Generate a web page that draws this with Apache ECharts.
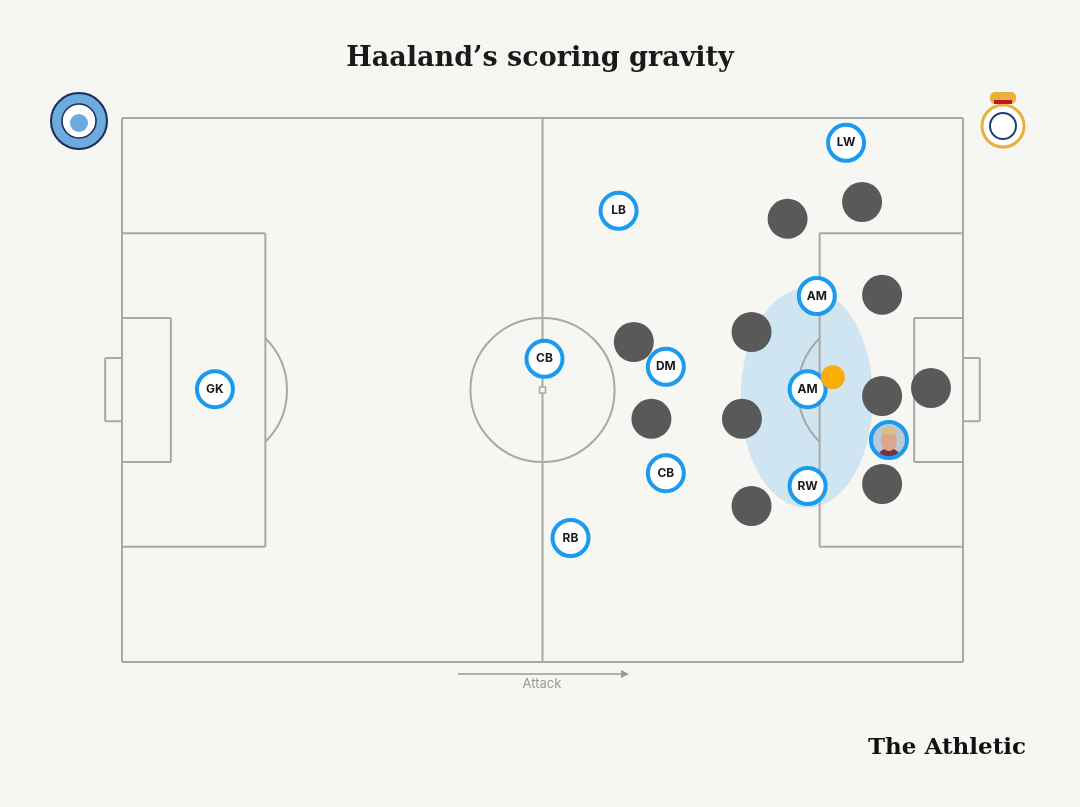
<!DOCTYPE html>
<html>
<head>
<meta charset="utf-8">
<title>Haaland's scoring gravity</title>
<style>html,body{margin:0;padding:0;background:#f6f6f2;}</style>
</head>
<body>
<div id="chart" style="width:1080px;height:807px;"></div>
<script src="https://cdn.jsdelivr.net/npm/echarts@6/dist/echarts.min.js"></script>
<script>
// pitch in metres, x to the right (attack), y upwards
var pitchLines = [
  [0,0,105,0],[105,0,105,68],[105,68,0,68],[0,68,0,0],[52.5,0,52.5,68],
  [0,14.4,17.9,14.4],[17.9,14.4,17.9,53.6],[17.9,53.6,0,53.6],
  [0,25,6.1,25],[6.1,25,6.1,43],[6.1,43,0,43],
  [0,30.1,-2.1,30.1],[-2.1,30.1,-2.1,38],[-2.1,38,0,38],
  [105,14.4,87.1,14.4],[87.1,14.4,87.1,53.6],[87.1,53.6,105,53.6],
  [105,25,98.9,25],[98.9,25,98.9,43],[98.9,43,105,43],
  [105,30.1,107.1,30.1],[107.1,30.1,107.1,38],[107.1,38,105,38]
];
// [cx, cy, r, startDeg, endDeg]
var pitchArcs = [
  [52.5,34,9,0,360],
  [11.5,34,9.1,-45,45],
  [93.5,34,9.1,135,225]
];
var cityPlayers = [
  ['LW',90.4,64.9],['LB',62,56.4],['AM',86.75,45.75],['DM',67.9,36.9],
  ['CB',52.75,37.9],['GK',11.6,34.1],['AM',85.6,34.1],['CB',67.9,23.6],
  ['RW',85.6,22],['RB',56,15.5]
];
var haaland = [95.75,27.75];
var madridPlayers = [
  [92.4,57.5],[83.1,55.4],[94.9,45.9],[78.6,41.25],[63.9,40],[101,34.25],
  [94.9,33.25],[66.1,30.4],[77.4,30.4],[94.9,22.25],[78.6,19.5]
];
var ball = [88.75,35.6];
var gravityZone = [85.5,33,8.25,13.75]; // cx, cy, rx, ry

var lineCol = '#a8a8a8', blue = '#1a9bf0', dark = '#595959';

var option = {
  backgroundColor: '#f6f6f2',
  animation: false,
  title: {
    text: 'Haaland\u2019s scoring gravity', left: 'center', top: 40,
    textStyle: {fontFamily: 'DejaVu Serif', fontWeight: 'bold', fontSize: 27, color: '#1a1a1a'}
  },
  grid: {left: 122, right: 117, top: 118, bottom: 145},
  xAxis: {type: 'value', min: 0, max: 105, show: false},
  yAxis: {type: 'value', min: 0, max: 68, show: false},
  series: [
    {
      type: 'custom', z: 1, data: [gravityZone],
      renderItem: function (p, api) {
        var c = api.coord([api.value(0), api.value(1)]);
        var s = api.size([api.value(2), api.value(3)]);
        return {type: 'ellipse', shape: {cx: c[0], cy: c[1], rx: s[0], ry: s[1]},
          style: {fill: 'rgba(150,205,240,0.4)'}};
      }
    },
    {
      type: 'custom', z: 2, data: pitchLines,
      renderItem: function (p, api) {
        var a = api.coord([api.value(0), api.value(1)]);
        var b = api.coord([api.value(2), api.value(3)]);
        return {type: 'line', shape: {x1: a[0], y1: a[1], x2: b[0], y2: b[1]},
          style: {stroke: lineCol, lineWidth: 2}};
      }
    },
    {
      type: 'custom', z: 2, data: pitchArcs,
      renderItem: function (p, api) {
        var c = api.coord([api.value(0), api.value(1)]);
        var r = api.size([api.value(2), 0])[0];
        return {type: 'arc', shape: {cx: c[0], cy: c[1], r: r,
          startAngle: api.value(3) * Math.PI / 180, endAngle: api.value(4) * Math.PI / 180},
          style: {stroke: lineCol, lineWidth: 2, fill: null}};
      }
    },
    {
      type: 'custom', z: 2, data: [[52.5,34]],
      renderItem: function (p, api) {
        var c = api.coord([api.value(0), api.value(1)]);
        return {type: 'rect', shape: {x: c[0]-3, y: c[1]-3, width: 6, height: 6},
          style: {stroke: lineCol, lineWidth: 1.5, fill: '#f6f6f2'}};
      }
    },
    {
      type: 'scatter', z: 3, symbolSize: 40, data: madridPlayers,
      itemStyle: {color: dark, opacity: 1}
    },
    {
      type: 'scatter', z: 4, symbolSize: 36,
      data: cityPlayers.map(function (d) { return {value: [d[1], d[2]], name: d[0]}; }),
      itemStyle: {color: '#fff', borderColor: blue, borderWidth: 4, opacity: 1},
      label: {show: true, formatter: '{b}', color: '#1a1a1a', fontWeight: 'bold', fontSize: 12, fontFamily: 'Inter'}
    },
    {
      type: 'custom', z: 5, data: [haaland],
      renderItem: function (p, api) {
        var c = api.coord([api.value(0), api.value(1)]);
        return {type: 'group', children: [
          {type: 'group', clipPath: {type: 'circle', shape: {cx: c[0], cy: c[1], r: 18}}, children: [
            {type: 'circle', shape: {cx: c[0], cy: c[1], r: 18}, style: {fill: '#b9c9d6'}},
            {type: 'circle', shape: {cx: c[0], cy: c[1] + 20, r: 12}, style: {fill: '#7a2f3a'}},
            {type: 'ellipse', shape: {cx: c[0], cy: c[1] + 1, rx: 8, ry: 10}, style: {fill: '#d9a88c'}},
            {type: 'ellipse', shape: {cx: c[0], cy: c[1] - 9, rx: 8, ry: 4}, style: {fill: '#d8bd86'}}
          ]},
          {type: 'circle', shape: {cx: c[0], cy: c[1], r: 18}, style: {fill: null, stroke: blue, lineWidth: 4}}
        ]};
      }
    },
    {
      type: 'scatter', z: 6, symbolSize: 24, data: [ball],
      itemStyle: {color: '#f9ad0a', opacity: 1}
    }
  ],
  graphic: [
    {type: 'line', shape: {x1: 458, y1: 674, x2: 624, y2: 674}, style: {stroke: '#999', lineWidth: 1.5}},
    {type: 'polygon', shape: {points: [[629,674],[621,670],[621,678]]}, style: {fill: '#999'}},
    {type: 'text', x: 542, y: 684, style: {text: 'Attack', fill: '#999', font: '13px Inter', textAlign: 'center', textVerticalAlign: 'middle'}},
    {type: 'text', x: 1026, y: 748, style: {text: 'The Athletic', fill: '#111', font: 'bold 23px "DejaVu Serif"', textAlign: 'right', textVerticalAlign: 'middle'}},
    // club badges (simplified)
    {type: 'circle', shape: {cx: 79, cy: 121, r: 28}, style: {fill: '#6cabdd', stroke: '#1c2c5b', lineWidth: 2}},
    {type: 'circle', shape: {cx: 79, cy: 121, r: 17}, style: {fill: '#fff', stroke: '#1c2c5b', lineWidth: 1.5}},
    {type: 'circle', shape: {cx: 79, cy: 123, r: 9}, style: {fill: '#6cabdd'}},
    {type: 'circle', shape: {cx: 1003, cy: 126, r: 21}, style: {fill: '#fff', stroke: '#e7b23a', lineWidth: 3}},
    {type: 'circle', shape: {cx: 1003, cy: 126, r: 13}, style: {fill: '#fff', stroke: '#1d3f7a', lineWidth: 2}},
    {type: 'rect', shape: {x: 990, y: 92, width: 26, height: 12, r: 5}, style: {fill: '#e7b23a'}},
    {type: 'rect', shape: {x: 994, y: 100, width: 18, height: 4}, style: {fill: '#c8102e'}}
  ]
};

var chart = echarts.init(document.getElementById('chart'));
chart.setOption(option);
</script>
</body>
</html>
